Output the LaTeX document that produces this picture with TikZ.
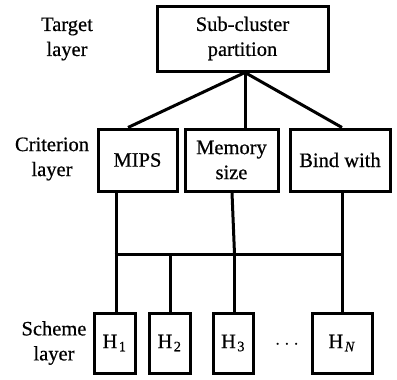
\documentclass[tikz,border=0pt]{standalone}
\usepackage{fontspec}
\setmainfont{Liberation Serif}
\newfontfamily\timesfont[FakeBold=0.6]{Liberation Serif}
\newcommand{\hsub}[1]{H\kern1.5pt\textsubscript{#1}}
\begin{document}
\begin{tikzpicture}[x=1pt,y=-1pt,
  every node/.style={font=\timesfont\fontsize{20.5}{25}\selectfont, inner sep=0pt},
  box/.style={draw, line width=3pt, align=center, minimum height=62pt},
  hbox/.style={draw, line width=3pt, minimum height=60pt},
  layer/.style={align=center},
  link/.style={line width=3pt}]
  \useasboundingbox (0,0) rectangle (397,380);

  % target layer
  \node[box, minimum width=171pt, minimum height=65pt] (top) at (242.5,38.5) {Sub-cluster\\partition};

  % criterion layer
  \node[box, minimum width=79pt] (mips) at (137.5,160) {MIPS};
  \node[box, minimum width=93pt] (mem) at (231.5,160) {Memory\\size};
  \node[box, minimum width=100pt] (bind) at (340,160) {Bind with};

  % scheme layer
  \node[hbox, minimum width=41pt] (h1) at (114.5,343) {\hsub{1}};
  \node[hbox, minimum width=41pt] (h2) at (169.5,343) {\hsub{2}};
  \node[hbox, minimum width=40pt] (h3) at (233,343) {\hsub{3}};
  \node[hbox, minimum width=60pt] (hn) at (342,343) {\hsub{\textit{N}}};
  \node (dots) at (287,345) {$\cdots$};

  % layer captions
  \node[layer] (lt) at (67,39) {Target\\layer};
  \node[layer] (lc) at (52,159) {Criterion\\layer};
  \node[layer] (ls) at (54,343) {Scheme\\layer};

  % target to criteria
  \coordinate (apex) at ([xshift=2.5pt]top.south);
  \draw[link] (apex) -- ([xshift=-9.5pt]mips.north);
  \draw[link] (apex) -- ([xshift=13.5pt]mem.north);
  \draw[link] (apex) -- ([xshift=2pt]bind.north);

  % criteria to common bus
  \coordinate (bus) at (0,254);
  \coordinate (m1) at ([xshift=-21.5pt]mips.south);
  \coordinate (b1) at ([xshift=2pt]bind.south);
  \draw[link] (m1) -- (m1 |- bus);
  \draw[link] ([xshift=0.5pt]mem.south) -- ([xshift=1.5pt]h3.north |- bus);
  \draw[link] (b1) -- (b1 |- bus);
  \draw[link] ([xshift=-1.5pt]m1 |- bus) -- ([xshift=1.5pt]b1 |- bus);

  % bus to schemes
  \draw[link] (m1 |- bus) -- ([xshift=1.5pt]h1.north);
  \draw[link] ([xshift=0.5pt]h2.north |- bus) -- ([xshift=0.5pt]h2.north);
  \draw[link] ([xshift=1.5pt]h3.north |- bus) -- ([xshift=1.5pt]h3.north);
  \draw[link] (b1 |- bus) -- (hn.north);
\end{tikzpicture}
\end{document}
